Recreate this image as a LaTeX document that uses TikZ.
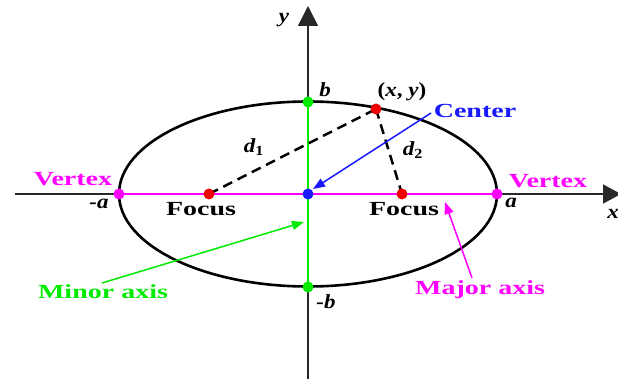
\documentclass[tikz,border=0pt]{standalone}
\usepackage{fontspec}
\setmainfont{Liberation Serif}
\usepackage{graphicx}
\usetikzlibrary{arrows.meta}
\definecolor{mag}{RGB}{255,0,255}
\definecolor{grn}{RGB}{0,235,0}
\definecolor{blu}{RGB}{25,25,255}
\definecolor{rd}{RGB}{240,0,0}
\definecolor{axgray}{RGB}{40,40,40}
\newcommand{\sx}[1]{\scalebox{1.4}[1]{#1}}
\newcommand{\sv}[1]{\scalebox{1.15}[1]{#1}}
\begin{document}
\begin{tikzpicture}[x=1pt,y=-1pt,
  axis/.style={draw=axgray, line width=1.6pt},
  ellip/.style={draw=black, line width=2.6pt},
  dashline/.style={draw=black, line width=2.5pt, dash pattern=on 10pt off 6pt},
  dot/.style={circle, inner sep=0pt, minimum size=11pt},
  lab/.style={font=\fontsize{20}{24}\selectfont\bfseries, inner sep=0pt},
  var/.style={font=\fontsize{20}{24}\selectfont\bfseries\itshape, inner sep=0pt},
  pointer/.style={line width=1.5pt, -{Triangle[length=12pt,width=9pt]}}
]
\useasboundingbox (0,0) rectangle (618,379);
\clip (0,0) rectangle (618,379);
% positions
\coordinate (xl) at (15,194);
\coordinate (xr) at (621,194);
\coordinate (yt) at (308,6);
\coordinate (yb) at (308,385);
\coordinate (o) at (308,194);
\coordinate (v1) at (119,194);
\coordinate (v2) at (497,194);
\coordinate (f1) at (209,194);
\coordinate (f2) at (402,194);
\coordinate (b1) at (308,102);
\coordinate (b2) at (308,287);
\coordinate (p) at (376,109);
% axes
\draw[axis, -{Triangle[length=18pt,width=19pt]}] (xl) -- (xr);
\draw[axis, -{Triangle[length=20pt,width=20pt]}] (yb) -- (yt);
% ellipse
\draw[ellip] (o) ellipse [x radius=189, y radius=92.5];
% axes of ellipse
\draw[draw=mag, line width=2pt] (v1) -- (v2);
\draw[draw=grn, line width=2pt] (b1) -- (b2);
% distances
\draw[dashline] (f1) -- (p);
\draw[dashline] (p) -- (f2);
% dots
\node[dot, fill=mag] (V1) at (v1) {};
\node[dot, fill=mag] (V2) at (v2) {};
\node[dot, fill=rd] (F1) at (f1) {};
\node[dot, fill=rd] (F2) at (f2) {};
\node[dot, fill=blu] (C) at (o) {};
\node[dot, fill=grn] (B1) at (b1) {};
\node[dot, fill=grn] (B2) at (b2) {};
\node[dot, fill=rd] (P) at (p) {};
% labels
\node[lab, text=mag] (vl) at (73,179) {\sx{Vertex}};
\node[lab, text=mag] (vr) at (548,181) {\sx{Vertex}};
\node[lab] (fl) at (201,209) {\sx{Focus}};
\node[lab] (fr) at (404,209) {\sx{Focus}};
\node[lab, text=blu] (cl) at (475,111) {\sx{Center}};
\node[lab, text=grn] (mi) at (103,292) {\sx{Minor axis}};
\node[lab, text=mag] (ma) at (480,290) {\sx{Major axis}};
\node[var] (lb) at (325,90) {\sv{b}};
\node[var] (lmb) at (326,302) {\sv{-b}};
\node[var] (lma) at (99,204) {\sv{-a}};
\node[var] (la) at (511,203) {\sv{a}};
\node[var] (ly) at (284,20) {\sv{y}};
\node[var] (lx) at (613,214) {\sv{x}};
\node[var] (ld1) at (254,147) {\sv{d\textsubscript{\upshape1}}};
\node[var] (ld2) at (413,150) {\sv{d\textsubscript{\upshape2}}};
\node[var] (lp) at (402,92) {\sv{\upshape(\itshape x\upshape, \itshape y\upshape)}};
% pointers
\coordinate (cs) at (431,113);
\coordinate (ce) at (313,189);
\coordinate (ms) at (102,283);
\coordinate (me) at (304,222);
\coordinate (js) at (472,278);
\coordinate (je) at (445,202);
\draw[pointer, draw=blu, fill=blu] (cs) -- (ce);
\draw[pointer, draw=grn, fill=grn] (ms) -- (me);
\draw[pointer, draw=mag, fill=mag] (js) -- (je);
\end{tikzpicture}
\end{document}
